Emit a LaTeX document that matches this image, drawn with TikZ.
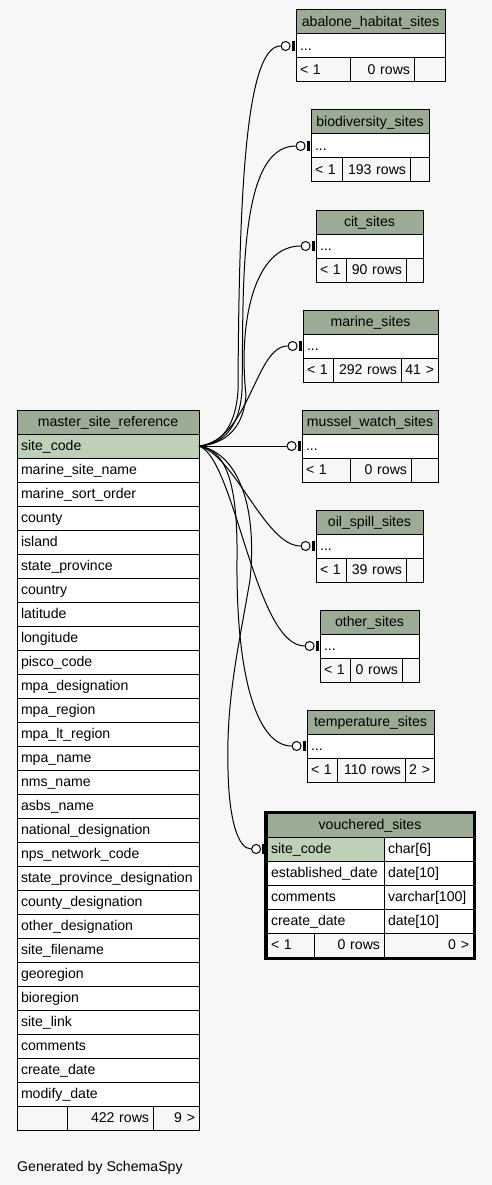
\documentclass[tikz,border=0pt]{standalone}
\usepackage{fontspec}
\setmainfont{Liberation Sans}
\usetikzlibrary{positioning}
\definecolor{bggray}{HTML}{F7F7F7}
\definecolor{headgreen}{HTML}{9BAB96}
\definecolor{keygreen}{HTML}{BED1B8}
\tikzset{
  cell/.style={draw, line width=1pt, anchor=north west, outer sep=0pt,
    inner xsep=4pt, inner ysep=0pt, minimum height=24pt,
    text height=11.5pt, text depth=2.5pt},
  tblhead/.style={cell, fill=headgreen, align=center},
  keyrow/.style={cell, fill=keygreen, align=left},
  fieldrow/.style={cell, fill=white, align=left},
  footl/.style={cell, fill=bggray, align=left},
  footr/.style={cell, fill=bggray, align=right},
  ring/.style={circle, draw, line width=1pt, fill=white, inner sep=0pt, minimum size=9pt},
  tee/.style={rectangle, fill=black, inner sep=0pt, minimum width=3.5pt, minimum height=10pt},
  rel/.style={line width=1pt}
}

\begin{document}
\begin{tikzpicture}[x=1pt, y=-1pt, every node/.style={font=\fontsize{14.1}{17}\selectfont}]
\fill[bggray] (0,0) rectangle (492,1185);
\useasboundingbox (0,0) rectangle (492,1185);

%--- master_site_reference ---
\node[tblhead, text width=174pt] (msr) at (17,410) {master\_site\_reference};
\node[keyrow, text width=174pt] (msr-key) at (17,434) {site\_code};
\foreach \f [count=\i] in {marine\_site\_name, marine\_sort\_order, county, island,
  state\_province, country, latitude, longitude, pisco\_code, mpa\_designation,
  mpa\_region, mpa\_lt\_region, mpa\_name, nms\_name, asbs\_name,
  national\_designation, nps\_network\_code, state\_province\_designation,
  county\_designation, other\_designation, site\_filename, georegion, bioregion,
  site\_link, comments, create\_date, modify\_date}{
  \node[fieldrow, text width=174pt] (msr-\i) at (17,{434+24*\i}) {\f};
}
\node[footl, text width=42pt] (msr-f1) at (17,1106) {};
\node[footr, text width=78pt] (msr-f2) at (67,1106) {422 rows};
\node[footr, text width=38pt] (msr-f3) at (153,1106) {9 >};

%--- abalone_habitat_sites ---
\node[tblhead, text width=141pt] (abal) at (296,10) {abalone\_habitat\_sites};
\node[fieldrow, text width=141pt] (abal-key) at (296,34) {...};
\node[footl, text width=46pt] (abal-f1) at (296,58) {< 1};
\node[footr, text width=56pt] (abal-f2) at (350,58) {0 rows};
\node[footr, text width=23pt] (abal-f3) at (414,58) {};

%--- biodiversity_sites ---
\node[tblhead, text width=110pt] (biod) at (311,110) {biodiversity\_sites};
\node[fieldrow, text width=110pt] (biod-key) at (311,134) {...};
\node[footl, text width=23pt] (biod-f1) at (311,158) {< 1};
\node[footr, text width=60pt] (biod-f2) at (342,158) {193 rows};
\node[footr, text width=11pt] (biod-f3) at (410,158) {};

%--- cit_sites ---
\node[tblhead, text width=99pt] (cit) at (316,210) {cit\_sites};
\node[fieldrow, text width=99pt] (cit-key) at (316,234) {...};
\node[footl, text width=22pt] (cit-f1) at (316,258) {< 1};
\node[footr, text width=52pt] (cit-f2) at (346,258) {90 rows};
\node[footr, text width=9pt] (cit-f3) at (406,258) {};

%--- marine_sites ---
\node[tblhead, text width=127pt] (mar) at (303,310) {marine\_sites};
\node[fieldrow, text width=127pt] (mar-key) at (303,334) {...};
\node[footl, text width=22pt] (mar-f1) at (303,358) {< 1};
\node[footr, text width=60pt] (mar-f2) at (333,358) {292 rows};
\node[footr, text width=29pt] (mar-f3) at (401,358) {41 >};

%--- mussel_watch_sites ---
\node[tblhead, text width=128pt] (mus) at (302,410) {mussel\_watch\_sites};
\node[fieldrow, text width=128pt] (mus-key) at (302,434) {...};
\node[footl, text width=40pt] (mus-f1) at (302,458) {< 1};
\node[footr, text width=53pt] (mus-f2) at (350,458) {0 rows};
\node[footr, text width=19pt] (mus-f3) at (411,458) {};

%--- oil_spill_sites ---
\node[tblhead, text width=99pt] (oil) at (316,510) {oil\_spill\_sites};
\node[fieldrow, text width=99pt] (oil-key) at (316,534) {...};
\node[footl, text width=22pt] (oil-f1) at (316,558) {< 1};
\node[footr, text width=52pt] (oil-f2) at (346,558) {39 rows};
\node[footr, text width=9pt] (oil-f3) at (406,558) {};

%--- other_sites ---
\node[tblhead, text width=91pt] (oth) at (320,610) {other\_sites};
\node[fieldrow, text width=91pt] (oth-key) at (320,634) {...};
\node[footl, text width=22pt] (oth-f1) at (320,658) {< 1};
\node[footr, text width=44pt] (oth-f2) at (350,658) {0 rows};
\node[footr, text width=9pt] (oth-f3) at (402,658) {};

%--- temperature_sites ---
\node[tblhead, text width=119pt] (temp) at (307,710) {temperature\_sites};
\node[fieldrow, text width=119pt] (temp-key) at (307,734) {...};
\node[footl, text width=22pt] (temp-f1) at (307,758) {< 1};
\node[footr, text width=60pt] (temp-f2) at (337,758) {110 rows};
\node[footr, text width=21pt] (temp-f3) at (405,758) {2 >};

%--- vouchered_sites ---
\node[tblhead, text width=198pt] (vs) at (267,813) {vouchered\_sites};
\node[keyrow, text width=109pt] (vs-key) at (267,837) {site\_code};
\node[fieldrow, text width=81pt] (vs-key-t) at (384,837) {char[6]};
\foreach \f/\t [count=\i] in {established\_date/date[10], comments/varchar[100],
  create\_date/date[10]}{
  \node[fieldrow, text width=109pt] (vs-\i) at (267,{837+24*\i}) {\f};
  \node[fieldrow, text width=81pt] (vs-\i-t) at (384,{837+24*\i}) {\t};
}
\node[footl, text width=39pt] (vs-f1) at (267,933) {< 1};
\node[footr, text width=62pt] (vs-f2) at (314,933) {0 rows};
\node[footr, text width=81pt] (vs-f3) at (384,933) {0 >};
\draw[line width=3pt] (265.5,812) rectangle (474.5,958);

% zero-or-one ends
\foreach \t in {abal,biod,cit,mar,mus,oil,oth,temp}{
  \node[tee, left=0.5pt of \t-key] (\t-bar) {};
  \node[ring, left=1pt of \t-bar] (\t-ring) {};
}
\node[tee, left=1pt of vs-key] (vs-bar) {};
\node[ring, left=1pt of vs-bar] (vs-ring) {};

% relazioni da site_code
\draw[rel] (msr-key.east) .. controls (222,444) and (236,425) .. (238,390)
  .. controls (239,200) and (245,46) .. (abal-ring.west);
\draw[rel] (msr-key.east) .. controls (225,444) and (240,425) .. (242,390)
  .. controls (244,300) and (236,146) .. (biod-ring.west);
\draw[rel] (msr-key.east) .. controls (228,444) and (244,425) .. (246,395)
  .. controls (238,320) and (255,246) .. (cit-ring.west);
\draw[rel] (msr-key.east) .. controls (250,440) and (255,346) .. (mar-ring.west);
\draw[rel] (msr-key.east) -- (mus-ring.west);
\draw[rel] (msr-key.east) .. controls (235,455) and (265,546) .. (oil-ring.west);
\draw[rel] (msr-key.east) .. controls (235,458) and (255,646) .. (oth-ring.west);
\draw[rel] (msr-key.east) .. controls (225,450) and (238,480) .. (237,560)
  .. controls (236,680) and (258,746) .. (temp-ring.west);
\draw[rel] (msr-key.east) .. controls (235,452) and (258,500) .. (250,580)
  .. controls (238,650) and (226,700) .. (228,770)
  .. controls (229,820) and (238,849) .. (vs-ring.west);

\node[anchor=base west, inner sep=0pt] (credit) at (17,1171) {Generated by SchemaSpy};
\end{tikzpicture}
\end{document}
